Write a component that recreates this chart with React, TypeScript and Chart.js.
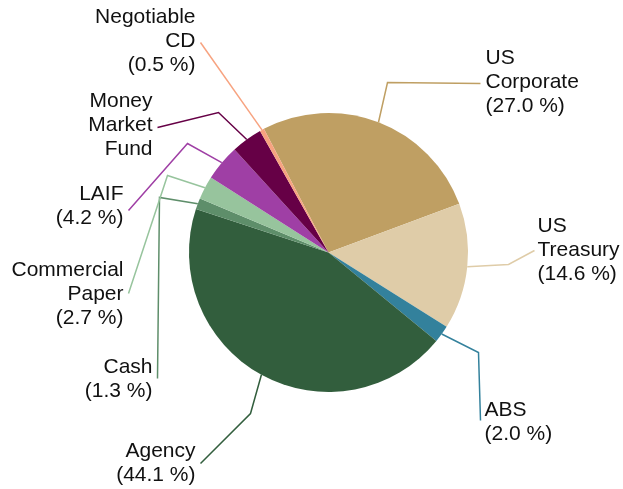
import React, { useEffect, useRef } from "react";
import { Chart, registerables } from "chart.js";

Chart.register(...registerables);

const categories = [
  "US Corporate",
  "US Treasury",
  "ABS",
  "Agency",
  "Cash",
  "Commercial Paper",
  "LAIF",
  "Money Market Fund",
  "Negotiable CD",
];
const shares = [27.0, 14.6, 2.0, 44.1, 1.3, 2.7, 4.2, 3.6, 0.5];
const showShare = [true, true, true, true, true, true, true, false, true];
const colors = [
  "#BF9F63",
  "#DFCCA8",
  "#33819C",
  "#325E3D",
  "#5E8E6A",
  "#97C49D",
  "#9F3FA5",
  "#660046",
  "#F7A380",
];

// label placement, offsets from pie centre (px)
const labelLayout = [
  { elbow: [59, -170], end: [152, -169], tx: 157, ty: -194, align: "left" },
  { elbow: [180, 12], end: [206, -2], tx: 209, ty: -26, align: "left" },
  { elbow: [150, 100], end: [152, 168], tx: 156, ty: 158, align: "left" },
  { elbow: [-78, 161], end: [-128, 211], tx: -133, ty: 199, align: "right" },
  { elbow: [-169, -55], end: [-171, 126], tx: -176, ty: 115, align: "right" },
  { elbow: [-161, -77], end: [-200, 41], tx: -205, ty: 18, align: "right" },
  { elbow: [-141, -109], end: [-200, -42], tx: -205, ty: -58, align: "right" },
  { elbow: [-110, -140], end: [-171, -125], tx: -176, ty: -151, align: "right" },
  { elbow: null, end: [-128, -210], tx: -133, ty: -235, align: "right" },
];

const FONT = '21px "Liberation Sans", Arial, sans-serif';
const LINE_H = 24;

const leaderPlugin = {
  id: "leaders",
  afterDatasetsDraw(chart: any) {
    const ctx = chart.ctx;
    const meta = chart.getDatasetMeta(0);
    meta.data.forEach((arc: any, i: number) => {
      const p = arc.getProps(["x", "y", "startAngle", "endAngle", "outerRadius"], true);
      const mid = (p.startAngle + p.endAngle) / 2;
      const ax = p.x + Math.cos(mid) * p.outerRadius;
      const ay = p.y + Math.sin(mid) * p.outerRadius;
      const L = labelLayout[i];
      ctx.save();
      ctx.strokeStyle = colors[i];
      ctx.lineWidth = 1.5;
      ctx.beginPath();
      ctx.moveTo(ax, ay);
      if (L.elbow) ctx.lineTo(p.x + L.elbow[0], p.y + L.elbow[1]);
      ctx.lineTo(p.x + L.end[0], p.y + L.end[1]);
      ctx.stroke();
      const lines = categories[i].split(" ");
      if (showShare[i]) lines.push("(" + shares[i].toFixed(1) + " %)");
      ctx.fillStyle = "#111111";
      ctx.font = FONT;
      ctx.textAlign = L.align;
      ctx.textBaseline = "middle";
      lines.forEach((t, k) => {
        ctx.fillText(t, p.x + L.tx, p.y + L.ty + k * LINE_H);
      });
      ctx.restore();
    });
  },
};

export default function App() {
  const ref = useRef<HTMLCanvasElement>(null);
  useEffect(() => {
    if (!ref.current) return;
    const chart = new Chart(ref.current, {
      type: "pie",
      data: {
        labels: categories,
        datasets: [
          {
            data: shares,
            backgroundColor: colors,
            borderWidth: 0,
          },
        ],
      },
      options: {
        animation: false,
        responsive: false,
        rotation: -27.6,
        layout: { padding: { left: 189, right: 155, top: 113, bottom: 97 } },
        plugins: {
          legend: { display: false },
          tooltip: { enabled: false },
        },
      },
      plugins: [leaderPlugin],
    });
    return () => chart.destroy();
  }, []);
  return (
    <div style={{ position: "fixed", left: 0, top: 0, width: 623, height: 489, background: "#fff" }}>
      <canvas ref={ref} width={623} height={489} style={{ width: 623, height: 489 }} />
    </div>
  );
}
